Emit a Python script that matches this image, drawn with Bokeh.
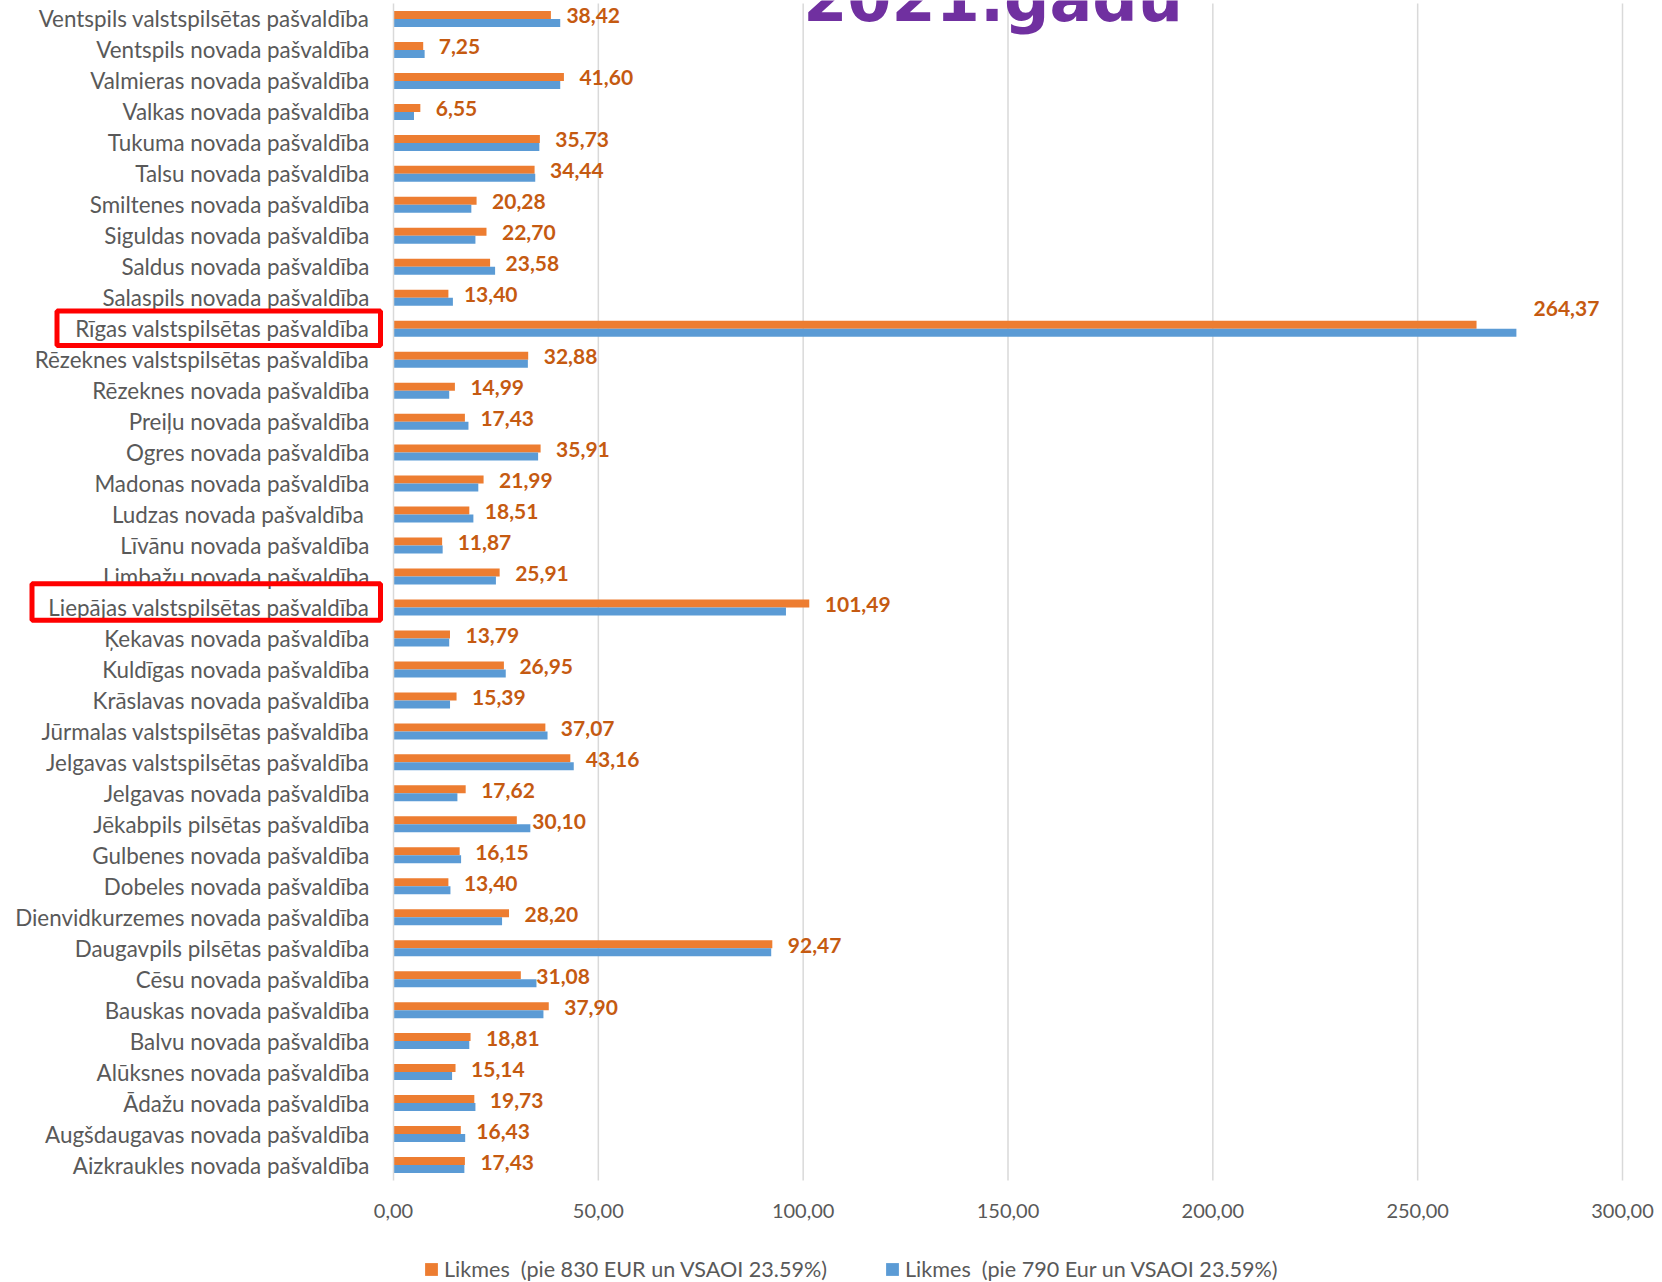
from bokeh.plotting import figure
from bokeh.models import (ColumnDataSource, Range1d, FixedTicker, Legend, LegendItem,
                          BoxAnnotation)
from bokeh.core.properties import value
from bokeh.embed import file_html
from bokeh.resources import INLINE

# ---------------- data (top to bottom as in the chart) ----------------
categories = [
    "Ventspils valstspilsētas pašvaldība",
    "Ventspils novada pašvaldība",
    "Valmieras novada pašvaldība",
    "Valkas novada pašvaldība",
    "Tukuma novada pašvaldība",
    "Talsu novada pašvaldība",
    "Smiltenes novada pašvaldība",
    "Siguldas novada pašvaldība",
    "Saldus novada pašvaldība",
    "Salaspils novada pašvaldība",
    "Rīgas valstspilsētas pašvaldība",
    "Rēzeknes valstspilsētas pašvaldība",
    "Rēzeknes novada pašvaldība",
    "Preiļu novada pašvaldība",
    "Ogres novada pašvaldība",
    "Madonas novada pašvaldība",
    "Ludzas  novada pašvaldība",
    "Līvānu novada pašvaldība",
    "Limbažu novada pašvaldība",
    "Liepājas valstspilsētas pašvaldība",
    "Ķekavas novada pašvaldība",
    "Kuldīgas novada pašvaldība",
    "Krāslavas novada pašvaldība",
    "Jūrmalas valstspilsētas pašvaldība",
    "Jelgavas valstspilsētas pašvaldība",
    "Jelgavas novada pašvaldība",
    "Jēkabpils pilsētas pašvaldība",
    "Gulbenes novada pašvaldība",
    "Dobeles novada pašvaldība",
    "Dienvidkurzemes novada pašvaldība",
    "Daugavpils pilsētas pašvaldība",
    "Cēsu novada pašvaldība",
    "Bauskas novada pašvaldība",
    "Balvu novada pašvaldība",
    "Alūksnes novada pašvaldība",
    "Ādažu novada pašvaldība",
    "Augšdaugavas novada pašvaldība",
    "Aizkraukles novada pašvaldība",
]

likmes_830 = [38.42, 7.25, 41.60, 6.55, 35.73, 34.44, 20.28, 22.70, 23.58, 13.40,
              264.37, 32.88, 14.99, 17.43, 35.91, 21.99, 18.51, 11.87, 25.91, 101.49,
              13.79, 26.95, 15.39, 37.07, 43.16, 17.62, 30.10, 16.15, 13.40, 28.20,
              92.47, 31.08, 37.90, 18.81, 15.14, 19.73, 16.43, 17.43]

likmes_790 = [40.7, 7.6, 40.7, 5.0, 35.6, 34.6, 19.0, 20.0, 24.8, 14.5,
              274.1, 32.8, 13.6, 18.3, 35.3, 20.7, 19.5, 12.0, 25.0, 95.8,
              13.6, 27.4, 13.8, 37.6, 44.0, 15.6, 33.4, 16.5, 13.9, 26.5,
              92.2, 34.9, 36.6, 18.5, 14.3, 20.0, 17.5, 17.3]

x_ticks = [0, 50, 100, 150, 200, 250, 300]
x_tick_labels = ["0,00", "50,00", "100,00", "150,00", "200,00", "250,00", "300,00"]

series_names = ["Likmes  (pie 830 EUR un VSAOI 23.59%)",
                "Likmes  (pie 790 Eur un VSAOI 23.59%)"]
title_text = "2021.gadu"
highlighted = ["Rīgas valstspilsētas pašvaldība", "Liepājas valstspilsētas pašvaldība"]

# ---------------- layout (pixels on the page) ----------------
ORANGE = "#ED7D31"
BLUE = "#5B9BD5"
LABEL_COL = "#C55A11"
GREY_TXT = "#595959"
GRID = "#D9D9D9"

W, H = 1662, 1282
AX_LEFT, AX_RIGHT = 393.0, 1622.0      # x = 0 and x = 300
PLOT_TOP, PLOT_BOTTOM = 3.0, 1180.0     # category band
n = len(categories)
px_x = (AX_RIGHT - AX_LEFT) / 300.0
px_y = (PLOT_BOTTOM - PLOT_TOP) / n

y_top = n - 0.5 + PLOT_TOP / px_y
y_bot = -0.5 - (H - PLOT_BOTTOM) / px_y
x_lo = -AX_LEFT / px_x
x_hi = 300 + (W - AX_RIGHT) / px_x

def page_y_to_data(py):
    return (n - 0.5) - (py - PLOT_TOP) / px_y

def page_x_to_data(px):
    return (px - AX_LEFT) / px_x

ypos = [n - 1 - i for i in range(n)]
bar_h = 8.0 / px_y

def fmt(v):
    return f"{v:.2f}".replace(".", ",")

x_off, y_lab = [], []
for i, c in enumerate(categories):
    if c.startswith("Rīgas"):
        x_off.append(57.0)
        y_lab.append(ypos[i] + 20.5 / px_y)
    else:
        x_off.append(15.5)
        y_lab.append(ypos[i] + 3.0 / px_y)

src = ColumnDataSource(dict(
    y_o=[y + bar_h / 2 for y in ypos],
    y_b=[y - bar_h / 2 for y in ypos],
    v_o=likmes_830,
    v_b=likmes_790,
    y_lab=y_lab,
    x_off=x_off,
    lab=[fmt(v) for v in likmes_830],
))

p = figure(width=W, height=H, x_range=Range1d(x_lo, x_hi), y_range=Range1d(y_bot, y_top),
           output_backend="svg", toolbar_location=None,
           min_border_left=0, min_border_right=0, min_border_top=0, min_border_bottom=0)
p.outline_line_color = None
p.background_fill_color = "white"
p.border_fill_color = "white"
p.xgrid.grid_line_color = None
p.ygrid.grid_line_color = None

# vertical gridlines (value ticks 50..300) over the category band
grid_ticks = x_ticks[1:]
p.segment(x0=grid_ticks, x1=grid_ticks, y0=[-0.5] * len(grid_ticks),
          y1=[n - 0.5] * len(grid_ticks), line_color=GRID, line_width=1.5)

r_o = p.hbar(y="y_o", left=0, right="v_o", height=bar_h, source=src,
             fill_color=ORANGE, line_color=None)
r_b = p.hbar(y="y_b", left=0, right="v_b", height=bar_h, source=src,
             fill_color=BLUE, line_color=None)

p.text(x="v_o", y="y_lab", text="lab", source=src, x_offset="x_off",
       text_font=value("Lato"), text_font_style="bold", text_font_size="21px",
       text_color=LABEL_COL, text_baseline="middle", text_align="left")

# axes placed at fixed positions inside the frame
p.xaxis.fixed_location = -0.5
p.xaxis.ticker = FixedTicker(ticks=x_ticks)
p.xaxis.major_label_overrides = {t: l for t, l in zip(x_ticks, x_tick_labels)}
p.xaxis.axis_line_color = None
p.xaxis.major_tick_line_color = None
p.xaxis.minor_tick_line_color = None
p.xaxis.major_label_text_font = "Lato"
p.xaxis.major_label_text_font_size = "20px"
p.xaxis.major_label_text_color = GREY_TXT
p.xaxis.major_label_standoff = 17

p.yaxis.fixed_location = 0
p.yaxis.bounds = (-0.5, n - 0.5)
p.yaxis.ticker = FixedTicker(ticks=ypos)
p.yaxis.major_label_overrides = {ypos[i]: categories[i] for i in range(n)}
p.yaxis.axis_line_color = GRID
p.yaxis.axis_line_width = 1.5
p.yaxis.major_tick_line_color = None
p.yaxis.minor_tick_line_color = None
p.yaxis.major_label_text_font = "Lato"
p.yaxis.major_label_text_font_size = "22.4px"
p.yaxis.major_label_text_color = GREY_TXT
p.yaxis.major_label_standoff = 18

# red highlight boxes around two category labels
box_specs = {
    highlighted[0]: (56.5, 0.5, 17.3),
    highlighted[1]: (31.5, 5.5, 18.3),
}
for name, (left_px, up_px, half_px) in box_specs.items():
    yc = ypos[categories.index(name)] + up_px / px_y
    p.add_layout(BoxAnnotation(
        left=page_x_to_data(left_px), right=page_x_to_data(380.0),
        bottom=yc - half_px / px_y, top=yc + half_px / px_y,
        fill_alpha=0, line_color="#FF0000", line_width=5, line_alpha=1))

# title, clipped by the top edge
p.text(x=[x_ticks[2]], y=[page_y_to_data(-2.0)], text=[title_text],
       text_font=value("DejaVu Sans"), text_font_style="bold", text_font_size="63.5px",
       text_color="#7030A0", text_baseline="alphabetic", text_align="left")

legend = Legend(items=[LegendItem(label=series_names[0], renderers=[r_o]),
                       LegendItem(label=series_names[1], renderers=[r_b])],
                orientation="horizontal", location=(423, 0),
                glyph_width=16, glyph_height=16, label_standoff=5, spacing=57,
                padding=0, margin=0, border_line_color=None, background_fill_alpha=0,
                label_text_font="Lato", label_text_font_size="21.6px",
                label_text_color=GREY_TXT, label_height=20)
p.add_layout(legend, "center")

open("out.html", "w").write(file_html(p, INLINE))
